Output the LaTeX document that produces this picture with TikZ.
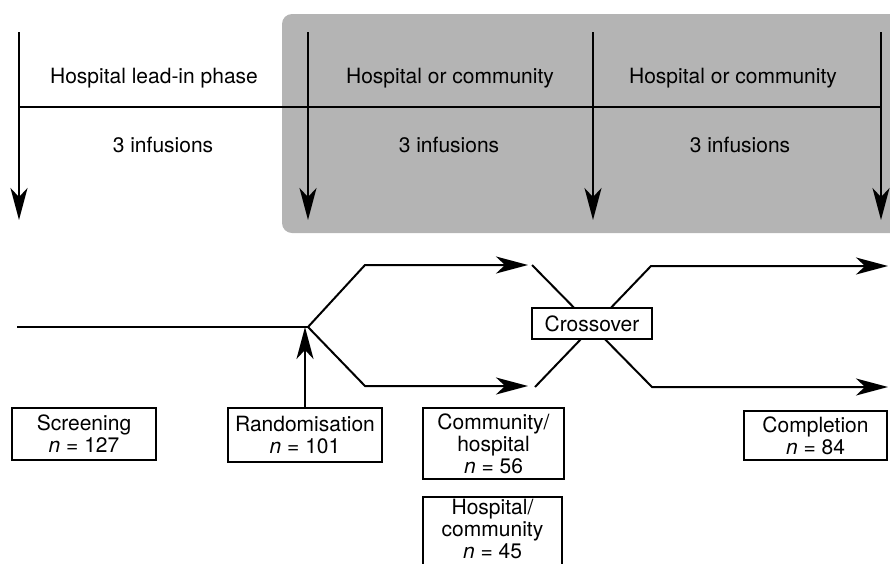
\documentclass[tikz,border=0pt]{standalone}
\usepackage{fontspec}
\setmainfont{TeX Gyre Heros}
\usetikzlibrary{arrows.meta}
\definecolor{panelgray}{RGB}{180,180,180}
\newcommand{\highbot}{\rule[-4pt]{0pt}{4pt}}
\tikzset{
  lbl/.style={font=\fontsize{10.5}{11}\selectfont},
  box/.style={draw, line width=1pt, fill=white, inner sep=0pt, align=center, font=\fontsize{10.5}{11}\selectfont},
}
\begin{document}
\begin{tikzpicture}[x=0.5pt, y=-0.5pt, line width=1pt, >={Stealth[length=16pt,width=8.5pt,inset=4.5pt]}]
\useasboundingbox (0,0) rectangle (890,563);
\clip (0,0) rectangle (890,563);
% randomised part
\fill[panelgray, rounded corners=5pt] (282,14) rectangle (900,233);
% time line
\foreach \x [count=\i from 0] in {19,308,593,881}{
  \coordinate (t\i) at (\x,32);
  \coordinate (b\i) at (\x,220);
  \draw[->] (t\i)--(b\i);
}
\coordinate (m0) at (19,107);
\coordinate (m3) at (881,107);
\draw (m0)--(m3);
\node[lbl] (lead) at (154,78) {Hospital lead-in phase};
\node[lbl] (inf1) at (163,145) {3 infusions};
\node[lbl] (hc1) at (450,78) {Hospital or community};
\node[lbl] (inf2) at (449,145) {3 infusions};
\node[lbl] (hc2) at (733,78) {Hospital or community};
\node[lbl] (inf3) at (740,145) {3 infusions};
% arms
\coordinate (start) at (17,327);
\coordinate (split) at (308,327);
\coordinate (up) at (365,265);
\coordinate (down) at (365,386);
\coordinate (upend) at (528,265);
\coordinate (downend) at (528,386);
\draw (start)--(split);
\draw[->] (split)--(up)--(upend);
\draw[->] (split)--(down)--(downend);
% crossover
\coordinate (xa) at (532,265);
\coordinate (xb) at (652,387);
\coordinate (xc) at (535,387);
\coordinate (xd) at (651,266);
\coordinate (fa) at (888,387);
\coordinate (fb) at (888,266);
\draw[->] (xa)--(xb)--(fa);
\draw[->] (xc)--(xd)--(fb);
\node[box, minimum width=60pt, minimum height=15.5pt] (cross) at (592,323.5) {Crossover};
% counts
\node[box, minimum width=72pt, minimum height=26pt] (scr) at (84,434) {Screening\\\textit{n} = 127};
\node[box, minimum width=77pt, minimum height=27pt] (rand) at (305,435) {Randomisation\\\textit{n} = 101};
\node[box, minimum width=70.5pt, minimum height=35.5pt] (ch) at (493.5,443.5) {Community/\\hospital\\\textit{n} = 56};
\node[box, minimum width=69.5pt, minimum height=35.5pt] (hc) at (492.5,532.5) {Hospital/\\community\\\textit{n} = 45\highbot};
\node[box, minimum width=71.5pt, minimum height=24.5pt] (comp) at (815.5,435.5) {Completion\\\textit{n} = 84};
\draw[->] (rand.north)--(rand.north |- split);
\end{tikzpicture}
\end{document}
